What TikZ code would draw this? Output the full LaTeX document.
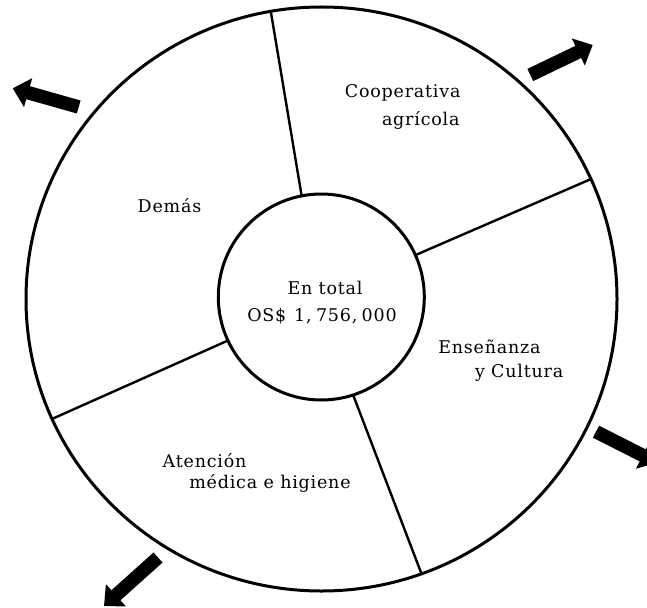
\documentclass[tikz,border=0pt]{standalone}
\usepackage{fontspec}
\setmainfont{DejaVu Serif}[LetterSpace=4.5]
\usetikzlibrary{shapes.geometric,arrows.meta}
\tikzset{
  ring/.style={draw=black, line width=3pt, inner sep=0pt, outer sep=0pt},
  divider/.style={draw=black, line width=2.4pt},
  bigarrow/.style={draw=black, line width=13.5pt, -{Triangle[length=16pt,width=29pt]}},
  lbl/.style={inner sep=0pt, outer sep=0pt, font=\fontsize{17.5}{21}\selectfont, text=black}
}
\begin{document}
\begin{tikzpicture}[x=1pt,y=-1pt]
\clip (0,0) rectangle (647,607);
\fill[white] (0,0) rectangle (647,607);
% rings
\node[ring, ellipse, minimum width=591pt, minimum height=584pt] (outer) at (321.5,299) {};
\node[ring, circle, minimum size=206pt] (inner) at (321.3,297) {};
% dividers
\draw[divider] (inner.101) -- (outer.100);
\draw[divider] (inner.24) -- (outer.24.6);
\draw[divider] (inner.-72.5) -- (outer.-70.8);
\draw[divider] (inner.205.3) -- (outer.204);
% arrows
\coordinate (a1t) at (78.7,107);  \coordinate (a1h) at (12.7,88.3);
\coordinate (a2t) at (530.3,75);  \coordinate (a2h) at (592.7,45);
\coordinate (a3t) at (596,431.7); \coordinate (a3h) at (657,462.6);
\coordinate (a4t) at (158,557.5); \coordinate (a4h) at (104,606);
\draw[bigarrow] (a1t) -- (a1h);
\draw[bigarrow] (a2t) -- (a2h);
\draw[bigarrow] (a3t) -- (a3h);
\draw[bigarrow] (a4t) -- (a4h);
% labels
\node[lbl, anchor=base east] (coop1) at (460.5,97.3) {Cooperativa};
\node[lbl, anchor=base east] (coop2) at (459.5,125) {agrícola};
\node[lbl, anchor=base] (demas) at (169.5,212.7) {Demás};
\node[lbl, anchor=base west] (ens1) at (438.3,353) {Enseñanza};
\node[lbl, anchor=base west] (ens2) at (475,377.3) {y Cultura};
\node[lbl, anchor=base west] (at1) at (162.7,467.3) {Atención};
\node[lbl, anchor=base west] (at2) at (189.3,488.8) {médica e higiene};
\node[lbl, anchor=base] (tot1) at (325,294) {En total};
\node[lbl, anchor=base] (tot2) at (322,321.7) {OS\$\hspace{0.45em}1,\hspace{0.25em}756,\hspace{0.25em}000};
\end{tikzpicture}
\end{document}
